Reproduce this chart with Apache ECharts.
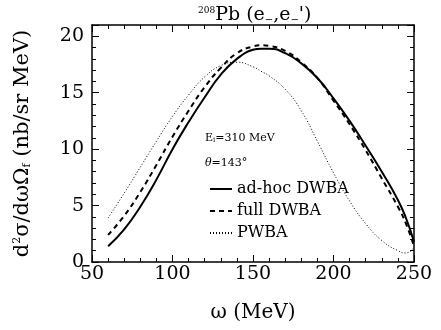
<!DOCTYPE html>
<html>
<head>
<meta charset="utf-8">
<script src="https://cdn.jsdelivr.net/npm/echarts@6/dist/echarts.min.js"></script>
<style>
html, body { margin: 0; padding: 0; background: #fff; }
#chart { width: 441px; height: 330px; }
</style>
</head>
<body>
<div id="chart"></div>
<script>
// omega in MeV, cross sections in nb/sr MeV
const omega  = [60, 70, 80, 90, 100, 110, 120, 130, 140, 150, 155, 160, 170, 180, 190, 200, 210, 220, 230, 240, 245, 250];
const adhoc  = [1.4, 2.9, 4.9, 7.3, 10.0, 12.4, 14.6, 16.6, 18.0, 18.8, 18.9, 18.9, 18.5, 17.6, 16.3, 14.5, 12.5, 10.3, 8.0, 5.5, 3.9, 1.8];
const full   = [2.4, 4.1, 6.2, 8.6, 11.1, 13.4, 15.5, 17.2, 18.5, 19.1, 19.2, 19.15, 18.7, 17.7, 16.3, 14.3, 12.2, 9.9, 7.4, 4.9, 3.4, 1.4];
const pwba   = [3.9, 6.1, 8.4, 10.7, 12.9, 14.8, 16.4, 17.4, 17.7, 17.3, 16.9, 16.5, 15.3, 13.4, 10.7, 7.9, 5.4, 3.4, 1.9, 1.0, 0.8, 1.3];
const seriesNames = ['ad-hoc DWBA', 'full DWBA', 'PWBA'];

const serif = 'DejaVu Serif';

function pairs(ys) {
    return omega.map((x, i) => [x, ys[i]]);
}

function xBox(pos, showLabel) {
    return {
        type: 'value',
        position: pos,
        min: 50, max: 250, interval: 50,
        axisLine: { show: true, onZero: false, lineStyle: { color: '#000', width: 1.5 } },
        axisTick: { show: true, inside: true, length: 7, lineStyle: { color: '#000' } },
        minorTick: { show: true, splitNumber: 5, length: 4, lineStyle: { color: '#000' } },
        splitLine: { show: false },
        axisLabel: { show: showLabel, color: '#000', fontFamily: serif, fontSize: 19, margin: 3 }
    };
}

// major ticks every 5 (with labels), minor ticks every 1 on a second overlaid axis
function yMajor(pos, showLabel) {
    return {
        type: 'value',
        position: pos,
        offset: 0,
        min: 0, max: 21, interval: 5,
        axisLine: { show: true, onZero: false, lineStyle: { color: '#000', width: 1.5 } },
        axisTick: { show: true, inside: true, length: 7, lineStyle: { color: '#000' } },
        splitLine: { show: false },
        axisLabel: {
            show: showLabel, color: '#000', fontFamily: serif, fontSize: 19, margin: 8,
            formatter: v => (v % 5 === 0 ? String(v) : '')
        }
    };
}

function yMinor(pos) {
    return {
        type: 'value',
        position: pos,
        offset: 0,
        min: 0, max: 21, interval: 1,
        axisLine: { show: false, onZero: false },
        axisTick: { show: true, inside: true, length: 4, lineStyle: { color: '#000' } },
        splitLine: { show: false },
        axisLabel: { show: false }
    };
}

let dom = document.getElementById('chart');
let myChart = echarts.init(dom, null, { renderer: 'canvas' });

let xBottom = xBox('bottom', true);
xBottom.name = 'ω (MeV)';
xBottom.nameLocation = 'middle';
xBottom.nameGap = 41;
xBottom.nameTextStyle = { color: '#000', fontFamily: serif, fontSize: 20 };

let yLeft = yMajor('left', true);
yLeft.name = 'd{sup|2}σ/dωΩ{sub|f} (nb/sr MeV)';
yLeft.nameLocation = 'middle';
yLeft.nameGap = 59;
yLeft.nameRotate = 90;
yLeft.nameTextStyle = {
    color: '#000', fontFamily: serif, fontSize: 21,
    rich: {
        sup: { fontFamily: serif, fontSize: 11, verticalAlign: 'top', color: '#000' },
        sub: { fontFamily: serif, fontSize: 11, verticalAlign: 'bottom', color: '#000' }
    }
};

let options = {
    animation: false,
    backgroundColor: '#fff',
    title: {
        text: '{sup|208}Pb (e{sub|−},e{sub|−}\')',
        left: 193,
        top: 1,
        textStyle: {
            color: '#000', fontFamily: serif, fontSize: 19, fontWeight: 'normal',
            rich: {
                sup: { fontFamily: serif, fontSize: 9, verticalAlign: 'top', color: '#000' },
                sub: { fontFamily: serif, fontSize: 10, verticalAlign: 'bottom', color: '#000' }
            }
        }
    },
    grid: { left: 92, right: 27, top: 25, bottom: 68, outerBoundsMode: 'none' },
    legend: {
        orient: 'vertical',
        left: 204,
        top: 176,
        itemWidth: 22,
        itemHeight: 10,
        itemGap: 6,
        itemStyle: { opacity: 0 },
        textStyle: { color: '#000', fontFamily: serif, fontSize: 16 },
        data: seriesNames
    },
    graphic: [
        {
            type: 'text', left: 205, top: 133,
            style: {
                text: 'E{sub|i}=310 MeV', fill: '#000', font: '11px "DejaVu Serif"',
                rich: { sub: { fontSize: 7, verticalAlign: 'bottom', fontFamily: serif } }
            }
        },
        {
            type: 'text', left: 205, top: 158,
            style: {
                text: '{it|θ}=143°', fill: '#000', font: '11px "DejaVu Serif"',
                rich: { it: { fontStyle: 'italic', fontSize: 11, fontFamily: serif } }
            }
        }
    ],
    xAxis: [xBottom, xBox('top', false)],
    yAxis: [yLeft, yMinor('left'), yMajor('right', false), yMinor('right')],
    series: [
        {
            name: seriesNames[0], type: 'line', smooth: true, symbol: 'none',
            itemStyle: { color: '#000' },
            lineStyle: { color: '#000', width: 2, type: 'solid' },
            data: pairs(adhoc)
        },
        {
            name: seriesNames[1], type: 'line', smooth: true, symbol: 'none',
            itemStyle: { color: '#000' },
            lineStyle: { color: '#000', width: 2, type: [5, 4] },
            data: pairs(full)
        },
        {
            name: seriesNames[2], type: 'line', smooth: true, symbol: 'none',
            itemStyle: { color: '#000' },
            lineStyle: { color: '#000', width: 1, type: [1, 2] },
            data: pairs(pwba)
        }
    ]
};

myChart.setOption(options);
</script>
</body>
</html>
